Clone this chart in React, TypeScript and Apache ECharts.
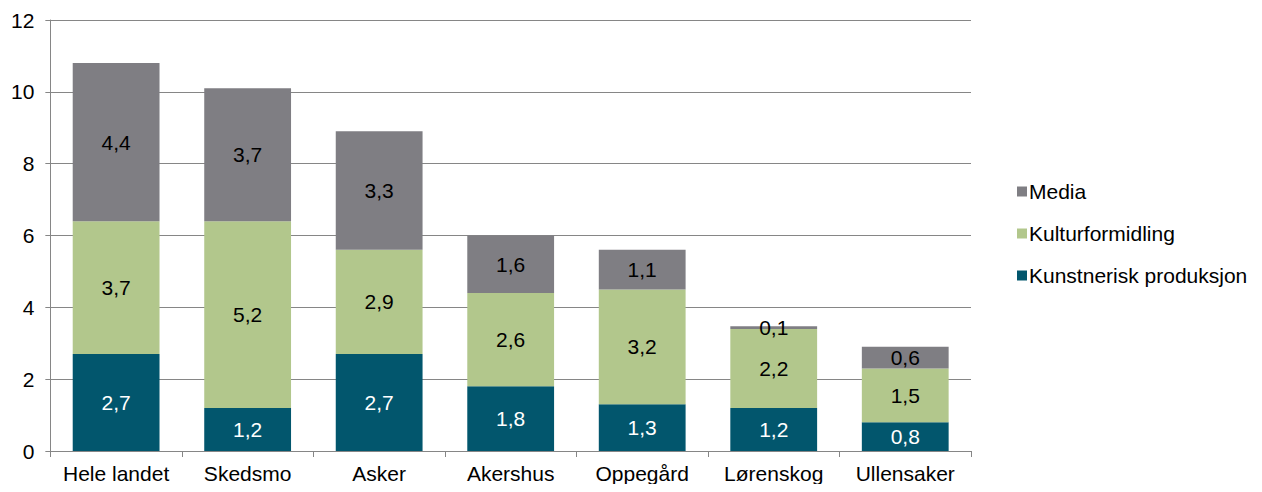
import React, { useEffect, useRef } from "react";
import * as echarts from "echarts";

const categories = ["Hele landet", "Skedsmo", "Asker", "Akershus", "Oppegård", "Lørenskog", "Ullensaker"];
const kunstnerisk = [2.7, 1.2, 2.7, 1.8, 1.3, 1.2, 0.8];
const kulturformidling = [3.7, 5.2, 2.9, 2.6, 3.2, 2.2, 1.5];
const media = [4.4, 3.7, 3.3, 1.6, 1.1, 0.07, 0.6];
const yTicks = [0, 2, 4, 6, 8, 10, 12];

const FONT = "'Liberation Sans', Arial, sans-serif";
const FS = 21;

export default function App() {
  const ref = useRef<HTMLDivElement>(null);
  useEffect(() => {
    if (!ref.current) return;
    const chart = echarts.init(ref.current, null, { renderer: "svg" });
    const fmt = (p: any) => Number(p.value).toFixed(1).replace(".", ",");
    const mk = (name: string, data: number[], color: string, labelColor: string) => ({
      name,
      type: "bar",
      stack: "total",
      data,
      barCategoryGap: "34%",
      itemStyle: { color },
      label: {
        show: true,
        position: "inside",
        formatter: fmt,
        color: labelColor,
        fontSize: FS,
        fontFamily: FONT,
      },
    });
    chart.setOption({
      animation: false,
      textStyle: { fontFamily: FONT },
      grid: { left: 41, right: 283, top: 12, bottom: 30, containLabel: false },
      legend: {
        orient: "vertical",
        left: 1004,
        top: 168,
        itemWidth: 10,
        itemHeight: 10,
        itemGap: 21,
        icon: "rect",
        data: ["Media", "Kulturformidling", "Kunstnerisk produksjon"],
        textStyle: { fontSize: FS, color: "#000", fontFamily: FONT, padding: [0, 0, 0, -3] },
      },
      xAxis: {
        type: "category",
        data: categories,
        axisLine: { lineStyle: { color: "#868686" } },
        axisTick: { show: true, length: 6, lineStyle: { color: "#868686" } },
        axisLabel: { fontSize: FS, color: "#000", fontFamily: FONT, margin: 12, interval: 0, hideOverlap: false },
      },
      yAxis: {
        type: "value",
        min: 0,
        max: yTicks[yTicks.length - 1],
        interval: 2,
        axisLine: { show: true, lineStyle: { color: "#868686" } },
        axisTick: { show: true, length: 5, lineStyle: { color: "#868686" } },
        splitLine: { lineStyle: { color: "#868686" } },
        axisLabel: { fontSize: FS, color: "#000", fontFamily: FONT, margin: 16 },
      },
      series: [
        mk("Kunstnerisk produksjon", kunstnerisk, "#02566d", "#fff"),
        mk("Kulturformidling", kulturformidling, "#b2c78c", "#000"),
        mk("Media", media, "#7f7e83", "#000"),
      ],
    });
    return () => chart.dispose();
  }, []);
  return <div ref={ref} style={{ width: 1246, height: 476 }} />;
}
